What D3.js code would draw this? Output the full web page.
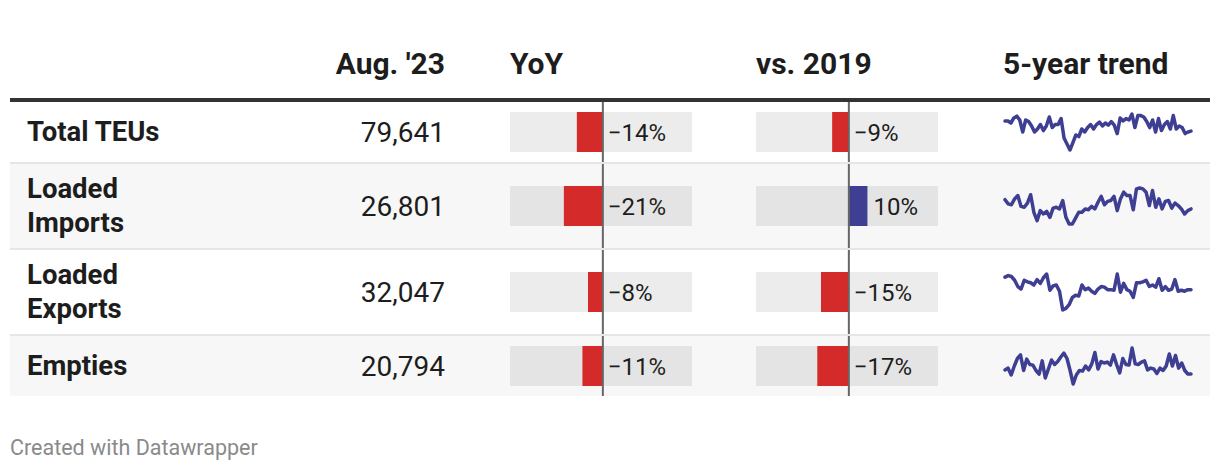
<!DOCTYPE html>
<html>
<head>
<meta charset="utf-8">
<script src="https://cdn.jsdelivr.net/npm/d3@7"></script>
<style>
  html, body { margin: 0; padding: 0; background: #ffffff; }
  svg { display: block; font-family: Roboto, "Noto Sans", sans-serif; }
</style>
</head>
<body>
<svg id="chart" width="1220" height="472"></svg>
<script>
// ---- data ----
const categories = ["Total TEUs", "Loaded Imports", "Loaded Exports", "Empties"];
const latestValues = [79641, 26801, 32047, 20794];
const yoyChange = [-14, -21, -8, -11];
const vs2019Change = [-9, 10, -15, -17];
const columnHeaders = ["Aug. '23", "YoY", "vs. 2019", "5-year trend"];
const footerText = "Created with Datawrapper";

// monthly volumes over five years (thousand TEUs)
const trendTotal = [88.1, 88.1, 86.4, 90.6, 92.1, 88.9, 78.9, 88.9, 87.6, 83.9, 78.9, 81.4, 85.1, 80.1, 83.9, 91.4,
  82.6, 85.1, 85.1, 90.1, 73.9, 68.9, 63.9, 70.1, 76.4, 75.1, 81.4, 78.9, 82.6, 85.1, 81.4, 85.1, 87.1, 83.9, 86.4,
  84.6, 87.6, 84.6, 77.6, 90.6, 88.1, 90.1, 88.9, 93.9, 82.6, 92.6, 92.6, 91.4, 87.6, 82.6, 88.9, 78.9, 90.1, 80.1,
  85.1, 87.6, 81.4, 92.6, 81.4, 83.9, 82.6, 77.6, 78.9, 79.6];
const trendImports = [29.0, 28.0, 27.8, 29.2, 30.0, 27.4, 27.2, 28.2, 30.2, 26.0, 24.0, 26.4, 25.6, 26.2, 24.8, 27.0,
  27.2, 26.8, 28.8, 24.8, 23.2, 23.2, 24.6, 26.0, 26.0, 26.8, 26.6, 27.4, 26.8, 28.4, 29.8, 27.8, 28.6, 28.8, 29.8,
  26.4, 29.2, 30.8, 30.0, 30.0, 26.6, 31.6, 31.8, 31.6, 30.8, 27.6, 31.2, 27.2, 29.2, 26.8, 28.6, 28.8, 27.0, 28.2,
  27.6, 26.8, 25.6, 26.4, 26.8];
const trendExports = [36.0, 36.5, 36.2, 35.0, 33.0, 32.2, 35.0, 34.5, 34.2, 33.5, 35.2, 34.0, 35.8, 37.0, 31.8, 33.2,
  33.5, 31.5, 25.5, 26.0, 27.2, 29.5, 30.2, 30.0, 33.5, 32.0, 32.5, 31.5, 30.8, 32.2, 33.0, 32.8, 32.0, 32.0, 31.8,
  37.0, 31.2, 34.0, 32.0, 31.5, 29.5, 34.2, 34.2, 34.5, 35.0, 33.0, 33.5, 32.8, 35.5, 31.8, 33.0, 31.8, 32.2, 35.2,
  31.5, 31.8, 31.5, 32.0, 32.0];
const trendEmpties = [21.5, 21.8, 20.65, 22.15, 23.4, 24.0, 21.4, 23.3, 22.4, 22.3, 21.4, 20.8, 23.0, 20.15, 21.65,
  23.15, 22.4, 22.9, 23.65, 24.3, 23.4, 21.4, 19.15, 20.65, 21.4, 21.3, 22.15, 21.5, 22.5, 24.4, 21.65, 22.9, 22.65,
  22.8, 22.3, 24.0, 22.4, 21.0, 23.4, 22.4, 22.3, 25.15, 22.5, 22.4, 22.8, 23.0, 21.5, 21.8, 21.65, 20.9, 21.8, 21.4,
  22.15, 24.15, 22.15, 23.9, 21.8, 22.65, 21.4, 20.8, 20.8];
const trends = [trendTotal, trendImports, trendExports, trendEmpties];

// ---- layout ----
const svg = d3.select("#chart");
const tableLeft = 10, tableRight = 1210;
const headerBaseline = 74;
const ruleTop = 98, ruleH = 4;
const labelX = 27, valueRight = 445;
const yoyX = 510, vsX = 756, barW = 182, trendX = 1003;
const sepH = 2;
const textColor = "#1d1d1d";
const red = "#d52a2a", blue = "#3e3f93", lineColor = "#3e3f93";

// measure label wrapping
const labelSize = 27.5;
const maxLabelW = 160;
const ctx = document.createElement("canvas").getContext("2d");
ctx.font = "bold " + labelSize + "px Roboto";
function wrap(text) {
  const words = text.split(" ");
  const lines = [];
  let cur = "";
  words.forEach(w => {
    const t = cur ? cur + " " + w : w;
    if (ctx.measureText(t).width > maxLabelW && cur) { lines.push(cur); cur = w; }
    else cur = t;
  });
  if (cur) lines.push(cur);
  return lines;
}
const rows = categories.map((c, i) => ({ i, name: c, lines: wrap(c) }));
let y = ruleTop + ruleH;
rows.forEach(r => {
  r.h = Math.max(60, r.lines.length * 34 + 16);
  r.y = y;
  r.cy = y + r.h / 2;
  y += r.h + sepH;
});

// header
svg.append("g").selectAll("text").data(columnHeaders).join("text")
  .attr("x", (d, i) => [valueRight, yoyX, vsX, trendX][i])
  .attr("y", headerBaseline)
  .attr("text-anchor", (d, i) => i === 0 ? "end" : "start")
  .attr("font-size", 30).attr("font-weight", 700).attr("fill", textColor)
  .text(d => d);

svg.append("rect").attr("x", tableLeft).attr("y", ruleTop).attr("width", tableRight - tableLeft)
  .attr("height", ruleH).attr("fill", "#333333");

// rows
const gRows = svg.append("g").selectAll("g").data(rows).join("g");
gRows.append("rect")
  .attr("x", tableLeft).attr("y", d => d.y).attr("width", tableRight - tableLeft).attr("height", d => d.h)
  .attr("fill", d => d.i % 2 ? "#f7f7f7" : "#ffffff");
gRows.filter(d => d.i < rows.length - 1).append("rect")
  .attr("x", tableLeft).attr("y", d => d.y + d.h).attr("width", tableRight - tableLeft).attr("height", sepH)
  .attr("fill", "#e6e6e6");

// labels
gRows.append("text")
  .attr("font-size", labelSize).attr("font-weight", 700).attr("fill", textColor)
  .each(function (d) {
    const t = d3.select(this);
    const n = d.lines.length;
    d.lines.forEach((ln, k) => {
      t.append("tspan").attr("x", labelX)
        .attr("y", d.cy + 9 + (k - (n - 1) / 2) * 34)
        .text(ln);
    });
  });

// values
const fmt = d3.format(",");
gRows.append("text")
  .attr("x", valueRight).attr("y", d => d.cy + 9.5)
  .attr("text-anchor", "end").attr("font-size", 28).attr("fill", textColor)
  .text(d => fmt(latestValues[d.i]));

// bar columns
const pct = d => (d < 0 ? "\u2212" : "") + Math.abs(d) + "%";
function barColumn(x0, values) {
  const xs = d3.scaleLinear().domain([-50, 48]).range([x0, x0 + barW]);
  const g = gRows.append("g");
  g.append("rect")
    .attr("x", x0).attr("y", d => d.cy - 20).attr("width", barW).attr("height", 40)
    .attr("fill", "#000").attr("fill-opacity", 0.075);
  g.append("rect")
    .attr("x", d => xs(Math.min(0, values[d.i])))
    .attr("y", d => d.cy - 20)
    .attr("width", d => Math.abs(xs(values[d.i]) - xs(0)))
    .attr("height", 40)
    .attr("fill", d => values[d.i] < 0 ? red : blue);
  g.append("line")
    .attr("x1", xs(0)).attr("x2", xs(0))
    .attr("y1", d => d.y).attr("y2", d => d.y + d.h)
    .attr("stroke", "#666666").attr("stroke-width", 2);
  g.append("text")
    .attr("x", d => (values[d.i] > 0 ? xs(values[d.i]) + 6 : xs(0) + 5))
    .attr("y", d => d.cy + 8.5)
    .attr("font-size", 24).attr("fill", textColor)
    .text(d => pct(values[d.i]));
}
barColumn(yoyX, yoyChange);
barColumn(vsX, vs2019Change);

// sparklines
gRows.append("path")
  .attr("fill", "none").attr("stroke", lineColor).attr("stroke-width", 3.5)
  .attr("stroke-linejoin", "round").attr("stroke-linecap", "round")
  .attr("d", d => {
    const vals = trends[d.i];
    const xs = d3.scaleLinear().domain([0, vals.length - 1]).range([trendX + 2, 1191]);
    const ys = d3.scaleLinear().domain(d3.extent(vals)).range([d.cy + 18, d.cy - 18]);
    return d3.line().x((v, k) => xs(k)).y(v => ys(v))(vals);
  });

// footer
svg.append("text").attr("x", 10).attr("y", 455)
  .attr("font-size", 21.5).attr("fill", "#8a8a8a").text(footerText);
</script>
</body>
</html>
